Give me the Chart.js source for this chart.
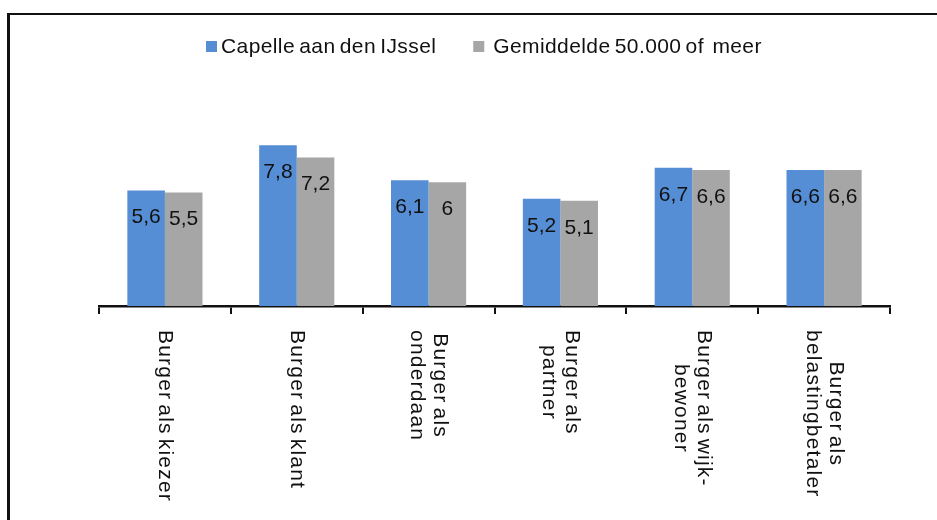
<!DOCTYPE html>
<html>
<head>
<meta charset="utf-8">
<script src="https://cdn.jsdelivr.net/npm/chart.js@4.4.1/dist/chart.umd.min.js"></script>
<style>
    html, body { margin: 0; padding: 0; background: #fff; }
    #wrap { width: 937px; height: 520px; position: relative; }
</style>
</head>
<body>
<div id="wrap"><canvas id="chart-rollen" width="937" height="520"></canvas></div>
<script>
const CATEGORIES = [
    ["Burger als kiezer"],
    ["Burger als klant"],
    ["Burger als", "onderdaan"],
    ["Burger als", "partner"],
    ["Burger als wijk-", "bewoner"],
    ["Burger als", "belastingbetaler"]
];
const SERIES_NAMES = ["Capelle aan den IJssel", "Gemiddelde 50.000 of  meer"];
const CAPELLE   = [5.6, 7.8, 6.1, 5.2, 6.7, 6.6];
const GEMIDDELD = [5.5, 7.2, 6.0, 5.1, 6.6, 6.6];

const BLUE = "#558ed5";
const GREY = "#a6a6a6";
const FONT = "'Liberation Sans', Arial, sans-serif";

const fmt = v => String(v).replace(".", ",");

// frame line on the left and top, legend, values inside the bars, vertical category labels
const decorations = {
    id: "decorations",
    afterDraw(chart) {
        const ctx = chart.ctx;
        ctx.save();
        ctx.fillStyle = "#111";
        ctx.fillRect(7, 13, 3, 507);
        ctx.fillRect(7, 13, 930, 2);

        // legend
        ctx.font = `21px ${FONT}`;
        ctx.letterSpacing = "0.4px";
        ctx.wordSpacing = "-2px";
        ctx.textBaseline = "middle";
        ctx.textAlign = "left";
        let x = 206;
        chart.data.datasets.forEach((ds, i) => {
            const gap = i === 0 ? 15 : 20;
            ctx.fillStyle = ds.backgroundColor;
            ctx.fillRect(x, 41, 11, 11);
            ctx.fillStyle = "#111";
            ctx.fillText(ds.label, x + gap, 47);
            x += gap + ctx.measureText(ds.label).width + 37;
        });

        // value labels
        ctx.letterSpacing = "0px";
        ctx.wordSpacing = "0px";
        ctx.font = `21px ${FONT}`;
        ctx.textAlign = "center";
        chart.data.datasets.forEach((ds, di) => {
            chart.getDatasetMeta(di).data.forEach((bar, i) => {
                ctx.fillText(fmt(ds.data[i]), bar.x, bar.y + 27);
            });
        });

        // category labels, rotated clockwise
        const xs = chart.scales.x;
        ctx.font = `21px ${FONT}`;
        ctx.letterSpacing = "1.2px";
        ctx.wordSpacing = "-3px";
        CATEGORIES.forEach((lines, i) => {
            const cx = xs.getPixelForValue(i);
            const w = Math.max(...lines.map(l => ctx.measureText(l).width));
            ctx.save();
            ctx.translate(cx, 330);
            ctx.rotate(Math.PI / 2);
            lines.forEach((line, j) => {
                const off = (j - (lines.length - 1) / 2) * 23;
                ctx.fillText(line, w / 2, off);
            });
            ctx.restore();
        });
        ctx.restore();
    }
};

new Chart(document.getElementById("chart-rollen").getContext("2d"), {
    type: "bar",
    data: {
        labels: CATEGORIES,
        datasets: [
            { label: SERIES_NAMES[0], data: CAPELLE,   backgroundColor: BLUE },
            { label: SERIES_NAMES[1], data: GEMIDDELD, backgroundColor: GREY }
        ]
    },
    options: {
        responsive: false,
        animation: false,
        layout: { padding: { left: 99, right: 47, top: 141, bottom: 0 } },
        datasets: { bar: { categoryPercentage: 0.57, barPercentage: 1.0 } },
        plugins: { legend: { display: false }, tooltip: { enabled: false } },
        scales: {
            x: {
                ticks: { display: false },
                grid: { offset: true, drawOnChartArea: false, color: "#111", lineWidth: 2, tickLength: 8 },
                border: { display: true, color: "#111", width: 2.5 },
                afterFit: s => { s.height = 214; }
            },
            y: { display: false, min: 0, max: 8 }
        }
    },
    plugins: [decorations]
});
</script>
</body>
</html>
